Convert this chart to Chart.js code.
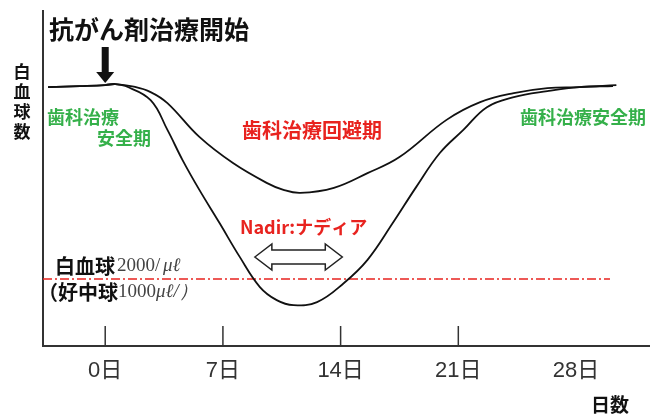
<!DOCTYPE html>
<html lang="ja">
<head>
<meta charset="utf-8">
<script src="https://cdn.jsdelivr.net/npm/chart.js@4.4.1/dist/chart.umd.min.js"></script>
<style>
  body { margin: 0; background: #fff; }
  #wrap { width: 650px; height: 416px; position: relative; }
</style>
</head>
<body>
<div id="wrap"><canvas id="wbcChart"></canvas></div>
<script>
// x axis
const tickDays = [0, 7, 14, 21, 28];
const markDays = [0, 7, 14, 21];
// deep dip curve
const deepDays = [-3.4, -1.5, 0, 0.6, 1.2, 2.7, 3.7, 4.6, 5.6, 6.8, 8.0, 9.2, 10.2, 11.2, 12.6, 14.2, 15.6, 17.1, 18.5, 19.9, 21.3, 22.7, 24.3, 26.3, 28.2, 30.2];
const deepCounts = [7730, 7760, 7790, 7820, 7760, 7340, 6450, 5550, 4660, 3670, 2660, 1760, 1370, 1220, 1310, 1880, 2570, 3670, 4750, 5760, 6450, 7130, 7430, 7610, 7730, 7760];
// mild dip curve
const mildDays = [-3.4, -1.5, 0, 0.6, 1.7, 2.7, 3.7, 5.6, 7.6, 9.6, 10.6, 11.6, 13.6, 15.6, 17.5, 20.3, 22.3, 24.3, 26.3, 28.2, 30.4];
const mildCounts = [7730, 7760, 7790, 7820, 7740, 7580, 7250, 6240, 5460, 4870, 4660, 4570, 4720, 5160, 5640, 6750, 7280, 7550, 7700, 7730, 7790];
// reference level and markers
const limitCount = 2000;
const startDay = 0;
const nadirRange = [8.9, 14.1];

const GREEN = "#35b04a";
const RED = "#e8231f";
const JP = '"Noto Sans CJK JP", sans-serif';

const toPoints = (xs, ys) => xs.map((x, i) => ({ x: x, y: ys[i] }));

const notes = {
  id: "notes",
  beforeDatasetsDraw(chart) {
    const { ctx, chartArea, scales } = chart;
    const y = scales.y.getPixelForValue(limitCount);
    ctx.save();
    ctx.strokeStyle = RED;
    ctx.lineWidth = 1.5;
    ctx.setLineDash([9, 3, 2, 3]);
    ctx.beginPath();
    ctx.moveTo(chartArea.left, y);
    ctx.lineTo(610, y);
    ctx.stroke();
    ctx.restore();
  },
  afterDraw(chart) {
    const { ctx, chartArea, scales } = chart;
    const xs = scales.x;
    ctx.save();

    // tick marks pointing up from the x axis
    ctx.strokeStyle = "#333";
    ctx.lineWidth = 1.5;
    markDays.forEach((d) => {
      const x = xs.getPixelForValue(d);
      ctx.beginPath();
      ctx.moveTo(x, chartArea.bottom);
      ctx.lineTo(x, chartArea.bottom - 20);
      ctx.stroke();
    });

    // start arrow
    const ax = xs.getPixelForValue(startDay);
    ctx.fillStyle = "#111";
    ctx.fillRect(ax - 3.5, 47, 7, 26);
    ctx.beginPath();
    ctx.moveTo(ax - 9, 72);
    ctx.lineTo(ax + 9, 72);
    ctx.lineTo(ax, 83);
    ctx.closePath();
    ctx.fill();

    // nadir double arrow (hollow)
    const x1 = xs.getPixelForValue(nadirRange[0]);
    const x2 = xs.getPixelForValue(nadirRange[1]);
    const cy = 257, hh = 13, sh = 7, hl = 17;
    ctx.beginPath();
    ctx.moveTo(x1, cy);
    ctx.lineTo(x1 + hl, cy - hh);
    ctx.lineTo(x1 + hl, cy - sh);
    ctx.lineTo(x2 - hl, cy - sh);
    ctx.lineTo(x2 - hl, cy - hh);
    ctx.lineTo(x2, cy);
    ctx.lineTo(x2 - hl, cy + hh);
    ctx.lineTo(x2 - hl, cy + sh);
    ctx.lineTo(x1 + hl, cy + sh);
    ctx.lineTo(x1 + hl, cy + hh);
    ctx.closePath();
    ctx.fillStyle = "#fff";
    ctx.fill();
    ctx.strokeStyle = "#222";
    ctx.lineWidth = 1.5;
    ctx.stroke();

    ctx.textBaseline = "middle";
    ctx.textAlign = "left";

    // title
    ctx.fillStyle = "#111";
    ctx.font = "bold 25px " + JP;
    ctx.fillText("抗がん剤治療開始", 49, 29);

    // y axis title, stacked
    ctx.font = "bold 17px " + JP;
    ctx.textAlign = "center";
    ["白", "血", "球", "数"].forEach((c, i) => ctx.fillText(c, 22, 72 + i * 20));
    ctx.textAlign = "left";
    ctx.font = "bold 19px " + JP;
    ctx.fillText("日数", 591, 405);

    // phase labels
    ctx.font = "bold 18px " + JP;
    ctx.fillStyle = GREEN;
    ctx.fillText("歯科治療", 47, 117);
    ctx.fillText("安全期", 97, 138);
    ctx.fillText("歯科治療安全期", 520, 117);
    ctx.fillStyle = RED;
    ctx.font = "bold 20px " + JP;
    ctx.fillText("歯科治療回避期", 242, 130);
    ctx.font = "bold 18px " + JP;
    ctx.fillText("Nadir:ナディア", 240, 227);

    // limit label
    ctx.fillStyle = "#111";
    ctx.font = "bold 20px " + JP;
    ctx.fillText("白血球", 55, 266);
    ctx.fillText("（好中球", 38, 292);
    ctx.fillStyle = "#444";
    ctx.font = '19px "Liberation Serif", serif';
    ctx.fillText("2000/", 117, 266);
    ctx.fillText("1000", 118, 292);
    ctx.font = 'italic 19px "Liberation Serif", serif';
    ctx.fillText("μℓ", 163, 266);
    ctx.fillText("μℓ/）", 156, 292);

    ctx.restore();
  },
};

new Chart(document.getElementById("wbcChart"), {
  type: "line",
  data: {
    datasets: [
      {
        label: "deep",
        data: toPoints(deepDays, deepCounts),
        borderColor: "#111",
        borderWidth: 1.8,
        pointRadius: 0,
        tension: 0.4,
        fill: false,
      },
      {
        label: "mild",
        data: toPoints(mildDays, mildCounts),
        borderColor: "#111",
        borderWidth: 1.8,
        pointRadius: 0,
        tension: 0.4,
        fill: false,
      },
    ],
  },
  options: {
    responsive: true,
    maintainAspectRatio: false,
    animation: false,
    layout: { padding: { top: 11, right: 0, left: 0, bottom: 0 } },
    plugins: { legend: { display: false }, tooltip: { enabled: false } },
    scales: {
      x: {
        type: "linear",
        min: -3.7,
        max: 32.4,
        afterBuildTicks: (s) => { s.ticks = tickDays.map((v) => ({ value: v })); },
        afterFit: (s) => { s.height = 70; },
        ticks: {
          callback: (v) => v + "日",
          color: "#333",
          padding: 12,
          maxRotation: 0,
          font: { size: 22, family: '"Liberation Sans", "Noto Sans CJK JP", sans-serif' },
        },
        grid: { display: false, drawTicks: false },
        border: { display: true, color: "#333", width: 2 },
      },
      y: {
        min: 0,
        max: 10000,
        afterFit: (s) => { s.width = 43; },
        ticks: { display: false },
        grid: { display: false, drawTicks: false },
        border: { display: true, color: "#333", width: 2 },
      },
    },
  },
  plugins: [notes],
});
</script>
</body>
</html>
